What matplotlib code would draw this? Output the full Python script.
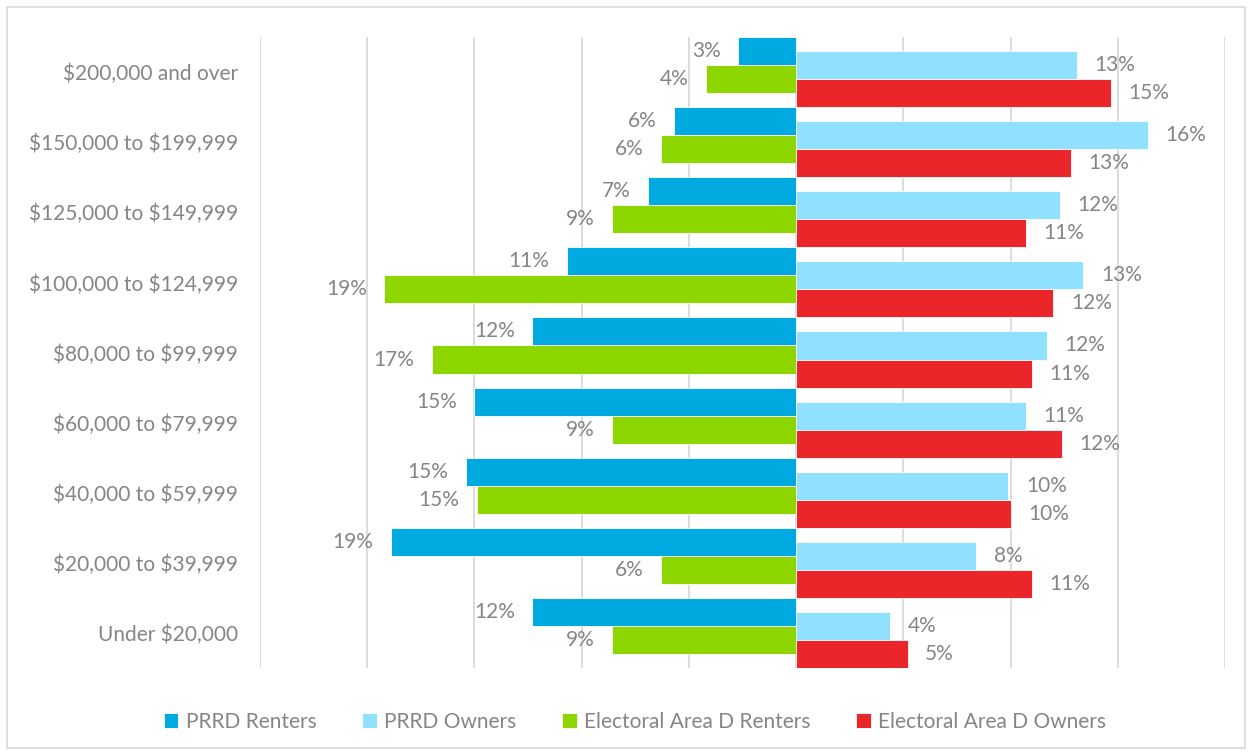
import numpy as np
import matplotlib.pyplot as plt
from matplotlib.patches import Rectangle

plt.rcParams['font.family'] = ['Lato', 'DejaVu Sans']
plt.rcParams['text.parse_math'] = False

categories = ["$200,000 and over", "$150,000 to $199,999", "$125,000 to $149,999",
              "$100,000 to $124,999", "$80,000 to $99,999", "$60,000 to $79,999",
              "$40,000 to $59,999", "$20,000 to $39,999", "Under $20,000"]

prrd_renters = [2.7, 5.7, 6.9, 10.7, 12.3, 15.0, 15.4, 18.9, 12.3]
prrd_owners = [13.1, 16.4, 12.3, 13.4, 11.7, 10.7, 9.9, 8.4, 4.4]
area_d_renters = [4.2, 6.3, 8.6, 19.2, 17.0, 8.6, 14.9, 6.3, 8.6]
area_d_owners = [14.7, 12.8, 10.7, 12.0, 11.0, 12.4, 10.0, 11.0, 5.2]

c_blue = "#00A9E0"
c_lblue = "#8FE1FF"
c_green = "#8DD600"
c_red = "#EB262A"
txt = "#858585"
fs = 15

fig = plt.figure(figsize=(12.5, 7.55), dpi=100)
ax = fig.add_axes([0.208, 0.1152, 0.772, 0.8358])

y = np.arange(len(categories))
h = 0.4

series = [
    (prrd_renters, y - 0.3, -1, c_blue, "PRRD Renters"),
    (prrd_owners, y - 0.1, 1, c_lblue, "PRRD Owners"),
    (area_d_renters, y + 0.1, -1, c_green, "Electoral Area D Renters"),
    (area_d_owners, y + 0.3, 1, c_red, "Electoral Area D Owners"),
]

for vals, pos, sign, col, name in series:
    v = np.array(vals) * sign
    ax.barh(pos, v, height=h, color=col, label=name, zorder=3,
            edgecolor="white", linewidth=0.6)
    for p, val in zip(pos, v):
        ha = "left" if sign > 0 else "right"
        ax.annotate(f"{abs(val):.0f}%", (val, p), xytext=(12.5 * sign, 0),
                    textcoords="offset points", ha=ha, va="center",
                    fontsize=fs, color=txt)

ax.set_xlim(-25, 20)
ax.set_ylim(len(categories) - 0.5, -0.5)
ax.set_xticks(np.arange(-25, 21, 5))
ax.set_xticklabels([])
ax.set_yticks(y)
ax.set_yticklabels(categories, fontsize=fs, color=txt)
ax.tick_params(axis="both", length=0)
ax.tick_params(axis="y", pad=16)
ax.grid(axis="x", color="#D9D9D9", linewidth=1.3, zorder=0)
for s in ax.spines.values():
    s.set_visible(False)

leg = fig.legend(loc="center", bbox_to_anchor=(0.508, 0.044), ncol=4,
                 frameon=False, fontsize=fs, handlelength=0.7,
                 handleheight=0.7, handletextpad=0.35, columnspacing=2.2)
for t in leg.get_texts():
    t.set_color(txt)

fig.patches.append(Rectangle((7 / 1250, 7 / 755), 1238 / 1250, 741 / 755,
                             transform=fig.transFigure, fill=False,
                             edgecolor="#D9D9D9", linewidth=1.2))

fig.savefig("out.png", dpi=100)
